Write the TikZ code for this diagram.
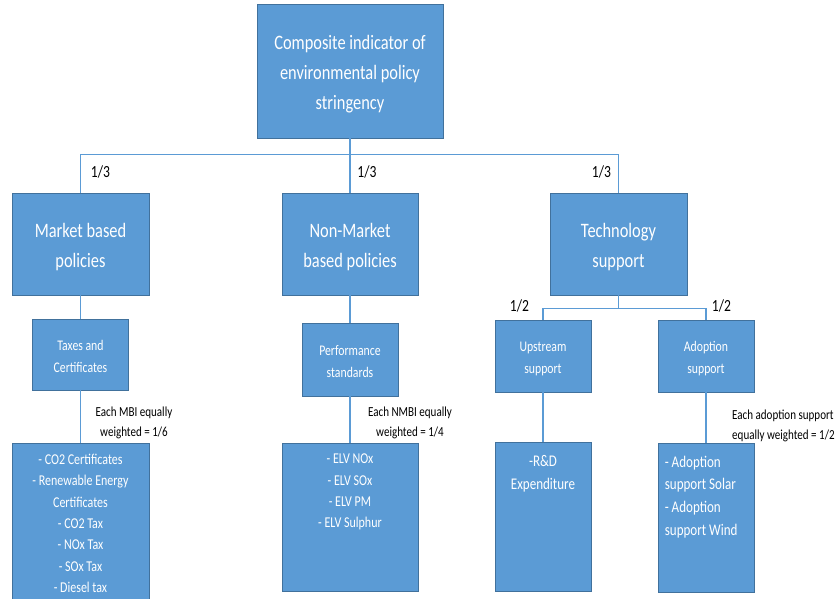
\documentclass[tikz,border=0pt]{standalone}
\usepackage{fontspec}
\setmainfont{Carlito}[FakeStretch=0.8]
\definecolor{boxfill}{RGB}{91,155,213}
\definecolor{boxline}{RGB}{65,113,156}
\definecolor{connline}{RGB}{91,155,213}
\newcommand{\lowbig}{\rule{0pt}{21pt}}
\newcommand{\lowsmall}{\rule{0pt}{14.5pt}}
\begin{document}
\begin{tikzpicture}[x=1pt,y=-1pt,
  box/.style={draw=boxline, line width=0.8pt, fill=boxfill, text=white, align=center, inner sep=0pt},
  bigtxt/.style={font=\fontsize{20.5}{30}\selectfont},
  smalltxt/.style={font=\fontsize{14.7}{22}\selectfont},
  listtxt/.style={text=white, align=center, font=\fontsize{15}{21.3}\selectfont, inner sep=0pt},
  techtxt/.style={text=white, font=\fontsize{16.3}{22.7}\selectfont, inner sep=0pt},
  conn/.style={draw=connline, line width=1.5pt},
  wlabel/.style={text=black, font=\fontsize{17}{20}\selectfont, inner sep=0pt},
  note/.style={text=black, font=\fontsize{13.8}{20}\selectfont, inner sep=0pt}
]
\useasboundingbox (0,0) rectangle (836,598);
% boxes
\node[box, bigtxt, minimum width=186, minimum height=134] (top) at (350,71) {\lowbig Composite indicator of\\environmental policy\\stringency};
\node[box, bigtxt, minimum width=137, minimum height=102] (mkt) at (80.5,244) {\lowbig Market based\\policies};
\node[box, bigtxt, minimum width=136, minimum height=102] (nmk) at (350,244) {\lowbig Non-Market\\based policies};
\node[box, bigtxt, minimum width=137, minimum height=102] (tech) at (618.5,244) {\lowbig Technology\\support};
\node[box, smalltxt, minimum width=96, minimum height=71] (tax) at (80.5,354.5) {\lowsmall Taxes and\\Certificates};
\node[box, smalltxt, minimum width=96, minimum height=73] (perf) at (350,359.5) {\lowsmall Performance\\standards};
\node[box, smalltxt, minimum width=96, minimum height=72] (up) at (543,356) {\lowsmall Upstream\\support};
\node[box, smalltxt, minimum width=96, minimum height=72] (adopt) at (706,356) {\lowsmall Adoption\\support};
% bottom boxes
\node[box, anchor=north, minimum width=137, minimum height=160] (mlist) at (80.5,443) {};
\node[listtxt, anchor=north] (mlistt) at ([yshift=-11]mlist.north) {- CO2 Certificates\\- Renewable Energy\\Certificates\\- CO2 Tax\\- NOx Tax\\- SOx Tax\\- Diesel tax};
\node[box, anchor=north, minimum width=136, minimum height=148] (nlist) at (350,443) {};
\node[listtxt, anchor=north] (nlistt) at ([yshift=-11]nlist.north) {- ELV NOx\\- ELV SOx\\- ELV PM\\- ELV Sulphur};
\node[box, anchor=north, minimum width=96, minimum height=149] (rd) at (543,442) {};
\node[techtxt, align=center, anchor=north] (rdt) at ([yshift=-13]rd.north) {-R\&D\\Expenditure};
\node[box, anchor=north, minimum width=96, minimum height=149] (alist) at (706,443) {};
\node[techtxt, align=left, anchor=north west] (alistt) at ([xshift=7,yshift=-12.5]alist.north west) {- Adoption\\support Solar\\- Adoption\\support Wind};
% connectors
\draw[conn] (top.south) -- ++(0,16) coordinate (hub) -| (mkt.north);
\draw[conn] (hub) -| (tech.north);
\draw[conn] (top.south) -- (nmk.north);
\draw[conn] (mkt.south) -- (tax.north);
\draw[conn] (tax.south) -- (mlist.north);
\draw[conn] (nmk.south) -- (perf.north);
\draw[conn] (perf.south) -- (nlist.north);
\draw[conn] (tech.south) -- ++(0,13) coordinate (thub) -| (up.north);
\draw[conn] (thub) -| (adopt.north);
\draw[conn] (up.south) -- (rd.north);
\draw[conn] (adopt.south) -- (alist.north);
% weight labels
\node[wlabel] (w1) at (100.5,172) {1/3};
\node[wlabel] (w2) at (367,172) {1/3};
\node[wlabel] (w3) at (601.5,172) {1/3};
\node[wlabel] (w4) at (519.5,306) {1/2};
\node[wlabel] (w5) at (721.5,306) {1/2};
\node[note, align=center] (n1) at (134,422.5) {Each MBI equally\\weighted = 1/6};
\node[note, align=center] (n2) at (410,422.5) {Each NMBI equally\\weighted = 1/4};
\node[note, align=left, anchor=west] (n3) at (732,425.5) {Each adoption support\\equally weighted = 1/2};
\end{tikzpicture}
\end{document}
